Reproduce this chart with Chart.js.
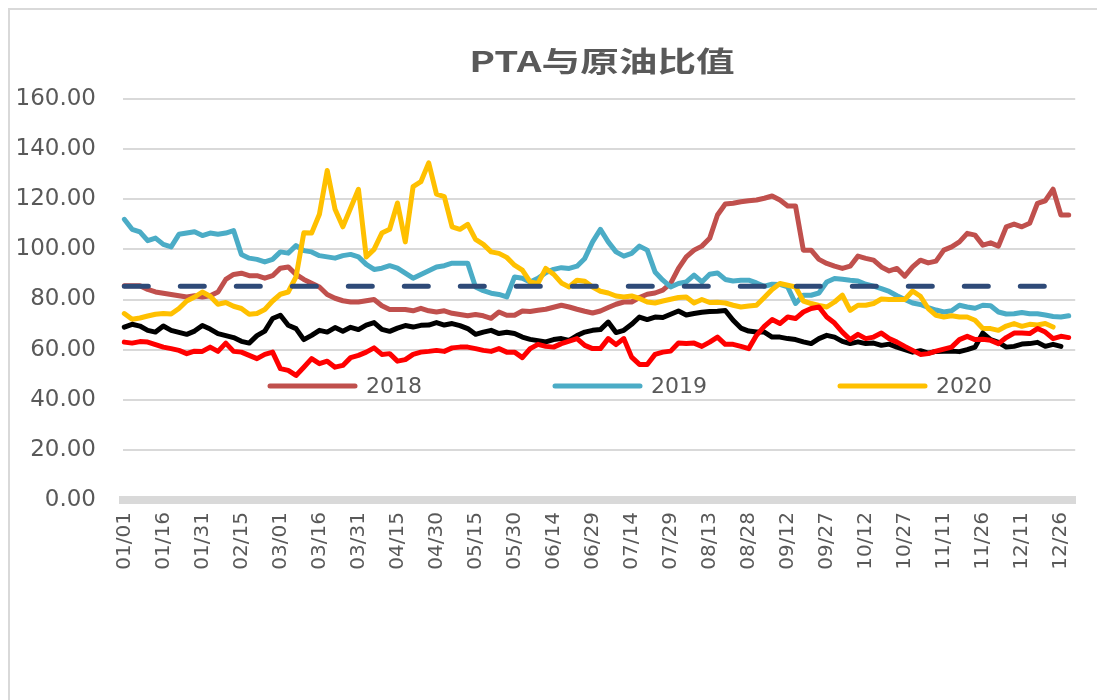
<!DOCTYPE html>
<html>
<head>
<meta charset="utf-8">
<script src="https://cdn.jsdelivr.net/npm/chart.js@4.4.1/dist/chart.umd.min.js"></script>
<style>
  html, body { margin: 0; padding: 0; background: #fff; }
  #wrap { width: 1097px; height: 700px; }
</style>
</head>
<body>
<div id="wrap"><canvas id="chart" width="1097" height="700"></canvas></div>
<script>
/* every day of 2020 as MM/DD (leap year, 366 categories) */
const categories = [];
for (let d = new Date(Date.UTC(2020, 0, 1)); d.getUTCFullYear() === 2020; d.setUTCDate(d.getUTCDate() + 1)) {
  categories.push(String(d.getUTCMonth() + 1).padStart(2, "0") + "/" + String(d.getUTCDate()).padStart(2, "0"));
}

const tickLabels = ["01/01", "01/16", "01/31", "02/15", "03/01", "03/16", "03/31", "04/15", "04/30",
  "05/15", "05/30", "06/14", "06/29", "07/14", "07/29", "08/13", "08/28", "09/12", "09/27",
  "10/12", "10/27", "11/11", "11/26", "12/11", "12/26"];

/* values, one every 3 days starting 01/01 */
const sample = 3;

const ratio2018 = [
  85.5, 85.5, 85.5, 84, 83, 82.5, 82, 81.5, 81, 81.5, 81, 81.5, 83, 88, 90, 90.5, 89.5, 89.5, 88.5, 89.5, 92.5, 93, 90, 88,
  86.5, 85, 82, 80.5, 79.5, 79, 79, 79.5, 80, 77.5, 76, 76, 76, 75.5, 76.5, 75.5, 75, 75.5, 74.5, 74, 73.5, 74, 73.5, 72.5,
  75, 73.7, 73.7, 75.4, 75.2, 75.7, 76.1, 76.9, 77.7, 77, 76.1, 75.3, 74.6, 75.4, 76.8, 78.1, 79, 79, 80.8, 82.1, 82.6, 83.7, 86.4, 92.4,
  97, 99.7, 101.3, 104.4, 113.7, 118.1, 118.4, 119, 119.4, 119.7, 120.4, 121.3, 119.7, 117.3, 117.3, 99.7, 99.7, 96, 94.4, 93.3, 92.4, 93.3, 97.3, 96.4,
  95.7, 93, 91.4, 92.4, 89.3, 93, 95.7, 94.6, 95.3, 99.7, 101, 103, 106.4, 105.7, 101.7, 102.6, 101.3, 109, 110.1, 109, 110.4, 118.4, 119.4, 124, 113.7, 113.7
];

const ratio2019 = [
  112, 108, 107, 103.5, 104.5, 102, 101, 106, 106.5, 107, 105.5, 106.5, 106, 106.5, 107.5, 98, 96.5, 96, 95, 96, 99, 98.5, 101.5, 99.5,
  99, 97.5, 97, 96.5, 97.5, 98, 97, 94, 92, 92.5, 93.5, 92.5, 90.5, 88.5, 90, 91.5, 93, 93.5, 94.5, 94.5, 94.5, 85, 83.5, 82.5,
  82, 81, 89, 88.5, 87, 88.5, 90.7, 92, 92.7, 92.4, 93.3, 96.4, 103, 108, 103, 99, 97.3, 98.4, 101.3, 99.7, 91, 87.7, 85, 86.4,
  87, 89.7, 87, 90.1, 90.6, 88, 87.4, 87.7, 87.7, 86.6, 85.3, 86.1, 86, 85, 78.4, 81.7, 81.7, 82.6, 87, 88.4, 88.1, 87.7, 87.4, 86.1,
  85.3, 84.3, 83.2, 81.5, 80, 78.6, 78, 76.8, 75.8, 75, 75.5, 77.7, 77, 76.5, 77.7, 77.5, 75, 74.2, 74.3, 74.8, 74.3, 74.3, 73.8, 73.2, 73, 73.5
];

const ratio2020 = [
  74.4, 72.1, 72.6, 73.4, 74.1, 74.4, 74.2, 76.4, 79.4, 81, 83, 81.3, 78.1, 78.8, 77.3, 76.4, 74.1, 74.4, 76, 79.4, 82.1, 83, 89, 106.6,
  106.5, 114, 131.5, 116, 109, 116.5, 124, 97, 100, 106.5, 108, 118.5, 103, 125, 127, 134.5, 122, 121, 109, 108, 110, 104, 102, 99,
  98.4, 96.8, 93.7, 91.7, 87, 86.4, 92.4, 90.1, 86.6, 85, 87.7, 87.3, 85, 83.3, 82.6, 81.4, 81, 81.4, 80.4, 79, 78.6, 79.4, 80.1, 80.8,
  81, 78.6, 80, 78.8, 78.9, 78.6, 77.7, 77, 77.4, 77.7, 80.8, 84, 86.4, 85.7, 85, 79.4, 78.4, 77.6, 77, 79, 81.7, 75.7, 77.7, 77.7,
  78.4, 80.2, 80, 80, 80, 83.4, 81.3, 76.4, 73.7, 73, 73.5, 73, 73, 71.7, 68.4, 68.4, 67.7, 69.4, 70.4, 69.3, 70.1, 69.8, 70.4, 69
];

const ratioBlack = [
  69, 70.1, 69.4, 67.7, 67, 69.4, 67.7, 66.9, 66.1, 67.4, 69.6, 68.2, 66.4, 65.6, 64.8, 63.3, 62.6, 65.6, 67.4, 72.4, 73.7, 69.7, 68.4, 64,
  65.7, 67.7, 67, 68.8, 67.3, 68.9, 68, 69.8, 70.8, 68.1, 67.3, 68.6, 69.6, 69, 69.7, 69.8, 70.8, 69.8, 70.4, 69.6, 68.4, 66.1, 67, 67.7,
  66.4, 66.9, 66.4, 65, 64.1, 63.6, 63.1, 64, 64.4, 63.7, 65.6, 67, 67.7, 68, 71, 66.8, 67.7, 70.1, 73, 72, 73, 72.8, 74.1, 75.4,
  73.8, 74.4, 74.9, 75.2, 75.3, 75.6, 71.7, 68.6, 67.4, 67, 67, 65, 65, 64.4, 64, 63.1, 62.4, 64.4, 65.7, 65, 63.3, 62.4, 63.1, 62.4,
  62.6, 61.7, 62.2, 61, 60, 59, 59.6, 58.6, 59.3, 59.4, 59.4, 59.2, 60, 61, 66.6, 64, 62.9, 61, 61.3, 62.2, 62.4, 62.9, 61.3, 62.1, 61.3
];

const ratioRed = [
  63, 62.6, 63.2, 63, 62, 61, 60.4, 59.7, 58.4, 59.4, 59.3, 61, 59.3, 62.6, 59.3, 59, 57.7, 56.4, 58.1, 59, 52.4, 51.7, 49.7, 53,
  56.4, 54.4, 55.4, 53, 53.7, 56.8, 57.7, 59, 60.7, 58.1, 58.4, 55.4, 56, 58.1, 59, 59.3, 59.7, 59.3, 60.7, 61, 61, 60.4, 59.7, 59.3,
  60.4, 59, 59, 56.8, 60.4, 62.1, 61.3, 61, 62.4, 63.4, 64.4, 61.7, 60.4, 60.4, 64.4, 62, 64.4, 57, 54.1, 54.1, 58.1, 59, 59.4, 62.6,
  62.4, 62.6, 61.3, 63, 65, 62.1, 62.1, 61.3, 60.4, 65.7, 69.3, 72, 70.4, 73, 72.4, 75, 76.4, 77, 73, 70.6, 67, 64, 66.1, 64.4,
  65, 66.6, 64.4, 63, 61.3, 59.7, 58.1, 58.4, 59.4, 60.2, 61, 64, 65.3, 64, 64.1, 63.7, 62.4, 64.8, 66.6, 66.6, 66.4, 68.4, 67, 64.4, 65.3, 64.8
];

const averageRatio = 85.3;

const legendItems = ["2018", "2019", "2020"];

function toPoints(values) {
  return values.map((v, i) => ({ x: categories[i * sample], y: v }));
}

function lineSet(label, values, color, order) {
  return {
    label: label,
    data: toPoints(values),
    borderColor: color,
    backgroundColor: color,
    borderWidth: 5,
    pointRadius: 0,
    borderJoinStyle: "round",
    borderCapStyle: "round",
    fill: false,
    tension: 0,
    order: order,
  };
}

const textColor = "#595959";
const seriesColors = ["#C0504D", "#4BACC6", "#FFC000"];

/* frame, title and the in-plot legend */
const decor = {
  id: "decor",
  beforeDraw(chart) {
    const ctx = chart.ctx;
    ctx.save();
    ctx.fillStyle = "#ffffff";
    ctx.fillRect(0, 0, chart.width, chart.height);
    ctx.strokeStyle = "#d9d9d9";
    ctx.lineWidth = 2;
    ctx.beginPath();
    ctx.moveTo(9, chart.height);
    ctx.lineTo(9, 9);
    ctx.lineTo(chart.width, 9);
    ctx.stroke();
    ctx.restore();
  },
  afterDraw(chart) {
    const ctx = chart.ctx;
    ctx.save();
    // title, stretched a little like the original
    ctx.translate(602, 61);
    ctx.scale(1.38, 1);
    ctx.font = "bold 28px 'Noto Sans CJK SC', 'Noto Sans', sans-serif";
    ctx.fillStyle = textColor;
    ctx.textAlign = "center";
    ctx.textBaseline = "middle";
    ctx.fillText("PTA与原油比值", 0, 0);
    ctx.restore();

    ctx.save();
    ctx.font = "22px 'DejaVu Sans', sans-serif";
    ctx.textBaseline = "middle";
    ctx.lineCap = "round";
    ctx.lineWidth = 5;
    legendItems.forEach((name, i) => {
      const x = 270 + i * 285;
      const y = 386;
      ctx.strokeStyle = seriesColors[i];
      ctx.beginPath();
      ctx.moveTo(x, y);
      ctx.lineTo(x + 85, y);
      ctx.stroke();
      ctx.fillStyle = textColor;
      ctx.fillText(name, x + 96, y + 1);
    });
    ctx.restore();
  },
};

const config = {
  type: "line",
  data: {
    labels: categories,
    datasets: [
      lineSet("2018", ratio2018, seriesColors[0], 5),
      lineSet("2019", ratio2019, seriesColors[1], 4),
      lineSet("2020", ratio2020, seriesColors[2], 3),
      lineSet("black", ratioBlack, "#000000", 2),
      lineSet("red", ratioRed, "#FF0000", 1),
      {
        label: "均值",
        data: [
          { x: categories[0], y: averageRatio },
          { x: categories[categories.length - 1], y: averageRatio },
        ],
        borderColor: "#2E4A78",
        borderWidth: 5,
        borderDash: [24, 32],
        borderCapStyle: "round",
        pointRadius: 0,
        fill: false,
        order: 0,
      },
    ],
  },
  options: {
    responsive: false,
    animation: false,
    events: [],
    devicePixelRatio: 1,
    layout: {
      padding: { left: 0, right: 7, top: 99, bottom: 0 },
    },
    scales: {
      x: {
        type: "category",
        offset: true,
        grid: { display: true, drawOnChartArea: false, drawTicks: false },
        border: { display: true, color: "#d9d9d9", width: 8 },
        ticks: {
          autoSkip: false,
          minRotation: 90,
          maxRotation: 90,
          padding: 12,
          color: textColor,
          font: { family: "'DejaVu Sans', sans-serif", size: 20 },
          callback: function (value, index) {
            const label = categories[index];
            return tickLabels.includes(label) ? label : null;
          },
        },
        afterFit(scale) {
          scale.height = 200;
        },
      },
      y: {
        min: 0,
        max: 160,
        grid: { color: "#d9d9d9", lineWidth: 2, drawTicks: false },
        border: { display: false },
        ticks: {
          stepSize: 20,
          padding: 27,
          color: textColor,
          font: { family: "'DejaVu Sans', sans-serif", size: 23 },
          callback: (v) => v.toFixed(2),
        },
        afterFit(scale) {
          scale.width = 123;
        },
      },
    },
    plugins: {
      legend: { display: false },
      title: { display: false },
      tooltip: { enabled: false },
    },
  },
  plugins: [decor],
};

new Chart(document.getElementById("chart"), config);
</script>
</body>
</html>
